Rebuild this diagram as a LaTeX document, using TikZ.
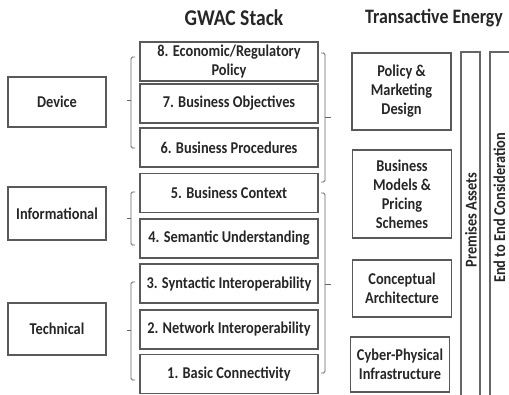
\documentclass[tikz,border=0pt]{standalone}
\usepackage{fontspec}
\setmainfont{Carlito}[BoldFont={Carlito Bold}, BoldFeatures={FakeStretch=0.87}]
\begin{document}
\begin{tikzpicture}[x=1pt,y=-1pt,
  every node/.style={font=\bfseries\fontsize{16.5}{19}\selectfont, text=black!85},
  box/.style={draw=black!65, line width=1.1pt, rectangle, align=center, inner sep=0pt},
  lbox/.style={box, minimum width=98pt},
  gbox/.style={box, minimum width=178pt, minimum height=39pt},
  tbox/.style={box, minimum width=99pt},
  brk/.style={draw=black!60, line width=0.9pt, rounded corners=1.5pt},
  title/.style={font=\bfseries\fontsize{22.5}{24}\selectfont}]
\useasboundingbox (0,0) rectangle (509,394);
% titles
\node[title] (tg) at (234,18) {GWAC Stack};
\node[title, font=\bfseries\fontsize{20.5}{22}\selectfont] (tt) at (434,18) {Transactive Energy};
% left boxes
\node[lbox, minimum height=50pt] (dev) at (57,102) {Device};
\node[lbox, minimum height=53pt] (inf) at (57,213.5) {Informational};
\node[lbox, minimum height=52pt] (tec) at (57,329) {Technical};
% GWAC stack
\node[gbox] (g8) at (229,61.5) {8. Economic/Regulatory\\Policy};
\node[gbox] (g7) at (229,103.5) {7. Business Objectives};
\node[gbox] (g6) at (229,147.5) {6. Business Procedures};
\node[gbox] (g5) at (229,193) {5. Business Context};
\node[gbox] (g4) at (229,238.5) {4. Semantic Understanding};
\node[gbox] (g3) at (229,283.5) {3. Syntactic Interoperability};
\node[gbox] (g2) at (229,329.5) {2. Network Interoperability};
\node[gbox] (g1) at (229,374) {1. Basic Connectivity};
% transactive energy
\node[tbox, minimum height=77pt] (te1) at (401.5,91.5) {Policy \&\\Marketing\\Design};
\node[tbox, minimum height=88pt] (te2) at (402,194) {Business\\Models \&\\Pricing\\Schemes};
\node[tbox, minimum height=57pt] (te3) at (402,288.5) {Conceptual\\Architecture};
\node[tbox, minimum height=55pt] (te4) at (400,364.5) {Cyber-Physical\\Infrastructure};
% vertical bars
\draw[draw=black!60, line width=1.1pt] (461,400) -- (461,52) -- (480,52) -- (480,400);
\node[rotate=90] (pa) at (471,220) {Premises Assets};
\draw[draw=black!60, line width=1.1pt] (490,400) -- (490,52) -- (515,52);
\node[rotate=90] (ee) at (499.5,208) {End to End Consideration};
% left brackets
\draw[brk] (135,57) -- (131,57) -- (131,148) -- (135,148);
\draw[brk] (131,100) -- (127,100);
\draw[brk] (135,192) -- (131,192) -- (131,245) -- (135,245);
\draw[brk] (131,218) -- (127,218);
\draw[brk] (135,282) -- (131,282) -- (131,380) -- (135,380);
\draw[brk] (131,330) -- (127,330);
% right brackets
\draw[brk] (321,53) -- (325,53) -- (325,182) -- (321,182);
\draw[brk] (325,117) -- (331,117);
\draw[brk] (321,193) -- (325,193) -- (325,373) -- (321,373);
\draw[brk] (325,284) -- (331,284);
\end{tikzpicture}
\end{document}
